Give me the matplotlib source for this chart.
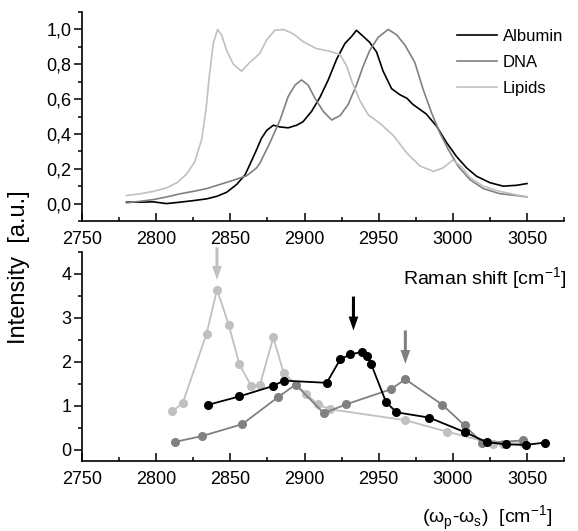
import matplotlib
matplotlib.use("Agg")
import matplotlib.pyplot as plt
from matplotlib.ticker import MultipleLocator, FuncFormatter

plt.rcParams['font.family'] = ['Liberation Sans', 'DejaVu Sans']
plt.rcParams['mathtext.fontset'] = 'custom'
plt.rcParams['mathtext.rm'] = 'Liberation Sans'

# --- top panel: Raman spectra (normalised) ---
alb_x = [2780, 2789, 2798, 2807, 2816, 2825, 2834, 2841, 2847.5, 2854.3, 2860, 2864,
         2867.7, 2871, 2874.5, 2879, 2883.5, 2889, 2894.7, 2899, 2904.8, 2910.4, 2916,
         2921.7, 2927.3, 2931.8, 2935, 2939.6, 2944, 2948.6, 2953, 2958.7, 2964.3, 2969,
         2973, 2982, 2989, 2995.8, 3002.5, 3009.3, 3016, 3025, 3034, 3043, 3050]
alb_y = [0.008, 0.008, 0.01, 0.0, 0.008, 0.017, 0.027, 0.042, 0.065, 0.11, 0.166, 0.24,
         0.31, 0.375, 0.42, 0.45, 0.44, 0.435, 0.45, 0.47, 0.53, 0.61, 0.71,
         0.83, 0.92, 0.96, 0.995, 0.96, 0.925, 0.87, 0.76, 0.66, 0.625, 0.605,
         0.57, 0.515, 0.445, 0.35, 0.27, 0.205, 0.157, 0.12, 0.10, 0.105, 0.115]

dna_x = [2780, 2789, 2798, 2807, 2816, 2825, 2834, 2843, 2852, 2861, 2867.7, 2870,
         2876.7, 2883.5, 2889, 2893.6, 2898, 2902.5, 2907, 2912.6, 2918.3, 2924, 2929.5,
         2935, 2939.6, 2944, 2949.7, 2956.4, 2962, 2967.7, 2974.4, 2980, 2985.7, 2991.3,
         2997, 3003.6, 3011.5, 3020.5, 3031.7, 3043, 3050]
dna_y = [0.004, 0.013, 0.023, 0.038, 0.056, 0.07, 0.086, 0.11, 0.134, 0.16, 0.205, 0.233,
         0.35, 0.48, 0.615, 0.68, 0.71, 0.68, 0.605, 0.53, 0.48, 0.505, 0.57,
         0.68, 0.79, 0.88, 0.955, 1.0, 0.97, 0.91, 0.81, 0.655, 0.52, 0.405,
         0.31, 0.214, 0.138, 0.086, 0.057, 0.046, 0.038]

lip_x = [2780, 2789, 2798, 2807, 2814, 2820.6, 2826, 2830.7, 2833.6, 2835.8, 2838.5,
         2841.4, 2844, 2847.5, 2852, 2857.6, 2863, 2867.7, 2870, 2874.5, 2880, 2885.7,
         2892.4, 2899, 2908, 2917, 2924, 2928.4, 2932, 2937.4, 2943, 2951, 2960, 2969,
         2978, 2987, 2993.5, 3000, 3006, 3011.5, 3020.5, 3031.7, 3043, 3050]
lip_y = [0.046, 0.056, 0.07, 0.09, 0.12, 0.17, 0.24, 0.37, 0.54, 0.73, 0.92,
         1.0, 0.97, 0.88, 0.80, 0.76, 0.81, 0.845, 0.865, 0.94, 0.995, 1.0,
         0.975, 0.93, 0.89, 0.875, 0.855, 0.79, 0.70, 0.59, 0.51, 0.46, 0.39, 0.29,
         0.215, 0.185, 0.205, 0.25, 0.21, 0.15, 0.10, 0.07, 0.05, 0.04]

# --- bottom panel: CARS intensity vs (wp - ws) ---
alb_pts_x = [2835, 2856, 2879, 2886, 2915, 2924, 2931, 2939, 2942, 2945, 2955, 2962,
             2984, 3008, 3023, 3036, 3049, 3062]
alb_pts_y = [1.02, 1.21, 1.45, 1.57, 1.52, 2.05, 2.17, 2.22, 2.14, 1.94, 1.08, 0.85,
             0.73, 0.40, 0.17, 0.12, 0.11, 0.16]

dna_pts_x = [2813, 2831, 2858, 2882, 2894, 2913, 2928, 2958, 2968, 2993, 3008, 3020, 3047]
dna_pts_y = [0.18, 0.31, 0.58, 1.19, 1.48, 0.83, 1.03, 1.37, 1.60, 1.02, 0.55, 0.15, 0.21]

lip_pts_x = [2811, 2818, 2834, 2841, 2849, 2856, 2864, 2870, 2879, 2886, 2901, 2909,
             2917, 2968, 2996, 3027, 3034, 3047]
lip_pts_y = [0.87, 1.07, 2.64, 3.64, 2.83, 1.95, 1.45, 1.48, 2.55, 1.74, 1.27, 1.03,
             0.92, 0.67, 0.41, 0.14, 0.14, 0.15]

# arrows: (x, y_start, y_tip)
arrows = [(2841, 4.6, 3.86, '#c0c0c0'), (2933, 3.48, 2.71, 'black'), (2968, 2.71, 1.95, '#808080')]

c_alb, c_dna, c_lip = 'black', '#808080', '#c0c0c0'

fig = plt.figure(figsize=(5.78, 5.31), dpi=100)
ax1 = fig.add_axes([0.1419, 0.5838, 0.834, 0.3936])
ax2 = fig.add_axes([0.1419, 0.1324, 0.834, 0.3936])

ax1.plot(alb_x, alb_y, color=c_alb, lw=1.2, label='Albumin')
ax1.plot(dna_x, dna_y, color=c_dna, lw=1.2, label='DNA')
ax1.plot(lip_x, lip_y, color=c_lip, lw=1.2, label='Lipids')
ax1.set_ylim(-0.1, 1.1)
ax1.yaxis.set_major_locator(MultipleLocator(0.2))
ax1.yaxis.set_minor_locator(MultipleLocator(0.1))
ax1.yaxis.set_major_formatter(FuncFormatter(lambda v, p: f"{v:.1f}".replace('.', ',')))
ax1.legend(loc='upper left', bbox_to_anchor=(0.778, 0.918), frameon=False,
           prop={'family': ['Liberation Sans', 'DejaVu Sans'], 'size': 12},
           borderpad=0, borderaxespad=0, handlelength=2.4, handletextpad=0.35,
           labelspacing=0.65)

ax2.plot(lip_pts_x, lip_pts_y, color=c_lip, lw=1.3, marker='o', ms=5.5)
ax2.plot(dna_pts_x, dna_pts_y, color=c_dna, lw=1.3, marker='o', ms=5.5)
ax2.plot(alb_pts_x, alb_pts_y, color=c_alb, lw=1.3, marker='o', ms=5.5)
ax2.set_ylim(-0.25, 4.5)
ax2.yaxis.set_major_locator(MultipleLocator(1))
ax2.yaxis.set_minor_locator(MultipleLocator(0.5))
for x, y0, y1, c in arrows:
    ax2.annotate('', xy=(x, y1), xytext=(x, y0), annotation_clip=False,
                 arrowprops=dict(facecolor=c, edgecolor='none', width=2.2,
                                 headwidth=7, headlength=10, shrink=0))

for ax in (ax1, ax2):
    ax.set_xlim(2750, 3075)
    ax.xaxis.set_major_locator(MultipleLocator(50))
    ax.xaxis.set_minor_locator(MultipleLocator(25))
    ax.spines['top'].set_visible(False)
    ax.spines['right'].set_visible(False)
    ax.spines['left'].set_linewidth(1.2)
    ax.spines['bottom'].set_linewidth(1.2)
    ax.tick_params(axis='x', which='major', direction='in', length=6, width=1.1,
                   pad=7.5, labelsize=13)
    ax.tick_params(axis='x', which='minor', direction='in', length=3, width=1.1)
    ax.tick_params(axis='y', which='major', direction='out', length=6, width=1.1,
                   pad=1.5, labelsize=13)
    ax.tick_params(axis='y', which='minor', direction='out', length=3, width=1.1)

fig.text(0.033, 0.496, 'Intensity  [a.u.]', rotation=90, ha='center', va='center',
         fontsize=17)
fig.text(0.979, 0.4746, 'Raman shift [cm$^{-1}$]', ha='right', va='center', fontsize=14)
fig.text(0.955, 0.0245, '(ω$_\\mathrm{p}$-ω$_\\mathrm{s}$)  [cm$^{-1}$]', ha='right',
         va='center', fontsize=14)

fig.savefig('out.png', dpi=100)
